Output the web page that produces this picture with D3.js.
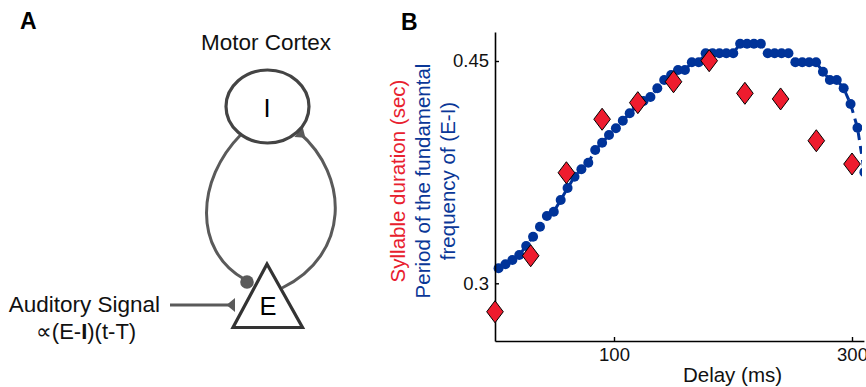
<!DOCTYPE html>
<html>
<head>
<meta charset="utf-8">
<script src="https://cdn.jsdelivr.net/npm/d3@7"></script>
<style>
  html, body { margin: 0; padding: 0; background: #fff; }
  svg { display: block; font-family: "Liberation Sans", Arial, Helvetica, sans-serif; }
</style>
</head>
<body>
<script>
// ---------------- DATA ----------------
// Model: period of the fundamental frequency of (E-I) vs delay (ms)
const modelDelays = [3, 8.8, 14.6, 20.4, 26.2, 32, 37.8, 43.6, 49.4, 55.2,
  61, 66.8, 72.6, 78.4, 84.2, 90, 95.8, 101.6, 107.4, 113.2,
  119, 124.8, 130.6, 136.4, 142.2, 148, 153.8, 159.6, 165.4, 171.2,
  177, 182.8, 188.6, 194.4, 200.2, 206, 211.8, 217.6, 223.4, 229.2,
  235, 240.8, 246.6, 252.4, 258.2, 264, 269.8, 275.6, 281.4, 287.2,
  293, 298.8, 304.6, 310.4];
const modelPeriods = [0.3101, 0.3128, 0.3157, 0.3191, 0.3252, 0.3314, 0.3382, 0.3454, 0.3483, 0.3562,
  0.3643, 0.3719, 0.3769, 0.3814, 0.3899, 0.3949, 0.4001, 0.4046, 0.4097, 0.4147,
  0.4196, 0.4230, 0.4257, 0.4316, 0.4372, 0.4406, 0.4439, 0.4439, 0.4491, 0.4491,
  0.4552, 0.4552, 0.4552, 0.4552, 0.4552, 0.4617, 0.4617, 0.4617, 0.4617, 0.4552,
  0.4552, 0.4552, 0.4552, 0.4491, 0.4491, 0.4491, 0.4491, 0.4428, 0.4372, 0.4372,
  0.4316, 0.4210, 0.4050, 0.3750];
// Experiment: syllable duration (sec) vs delay (ms)
const syllDelays = [0, 30, 60, 90, 120, 150, 180, 210, 240, 270, 300];
const syllDurations = [0.2808, 0.3186, 0.3746, 0.4107, 0.4219, 0.4360, 0.4502, 0.4282, 0.4244, 0.3962, 0.3805];
// Tick labels
const xTicks = [100, 300];
const yTicks = [0.3, 0.45];

// ---------------- SETUP ----------------
const W = 866, H = 387;
const FONT = '"Liberation Sans", Arial, Helvetica, sans-serif';
const svg = d3.select("body").append("svg").attr("width", W).attr("height", H);

// ================= PANEL A =================
const gA = svg.append("g");
const lineCol = "#5a5a5a";
gA.append("text").attr("x", 20).attr("y", 28.5).attr("font-size", 23).attr("font-weight", "bold")
  .attr("fill", "#000").text("A");
gA.append("text").attr("x", 266).attr("y", 49.5).attr("font-size", 22.5).attr("text-anchor", "middle")
  .attr("fill", "#111").text("Motor Cortex");

// loops
const left = d3.path();
left.moveTo(241, 134.5);
left.bezierCurveTo(196, 180, 193, 250, 244, 279);
gA.append("path").attr("d", left.toString()).attr("fill", "none").attr("stroke", lineCol).attr("stroke-width", 3);

const rEnd = [298.5, 132], rC2 = [350, 176];
const right = d3.path();
right.moveTo(282, 288);
right.bezierCurveTo(350, 255, rC2[0], rC2[1], rEnd[0], rEnd[1]);
gA.append("path").attr("d", right.toString()).attr("fill", "none").attr("stroke", lineCol).attr("stroke-width", 3);

function wedge(end, dir, hw, len) {
  const n = Math.hypot(dir[0], dir[1]);
  const ux = dir[0] / n, uy = dir[1] / n;
  const px = -uy, py = ux;
  const p = d3.path();
  p.moveTo(end[0] + px * hw, end[1] + py * hw);
  p.lineTo(end[0] - px * hw, end[1] - py * hw);
  p.lineTo(end[0] - ux * len, end[1] - uy * len);
  p.closePath();
  return p.toString();
}
gA.append("path").attr("d", wedge(rEnd, [rEnd[0] - rC2[0], rEnd[1] - rC2[1]], 6.5, 9)).attr("fill", lineCol);

// inhibitory end (filled circle)
gA.append("circle").attr("cx", 247).attr("cy", 282).attr("r", 6.8).attr("fill", lineCol);

// ellipse I
gA.append("ellipse").attr("cx", 267.5).attr("cy", 106.5).attr("rx", 41.5).attr("ry", 36.5)
  .attr("fill", "#fff").attr("stroke", "#444").attr("stroke-width", 3.2);
gA.append("text").attr("x", 267).attr("y", 117).attr("font-size", 25.5).attr("text-anchor", "middle")
  .attr("fill", "#000").text("I");

// triangle E
const tri = d3.path();
tri.moveTo(267, 264); tri.lineTo(233, 327.5); tri.lineTo(302.5, 327.5); tri.closePath();
gA.append("path").attr("d", tri.toString()).attr("fill", "#fff").attr("stroke", "#333")
  .attr("stroke-width", 3.2).attr("stroke-linejoin", "miter");
gA.append("text").attr("x", 268).attr("y", 315).attr("font-size", 25.5).attr("text-anchor", "middle")
  .attr("fill", "#000").text("E");

// auditory input
gA.append("line").attr("x1", 170).attr("y1", 305).attr("x2", 232).attr("y2", 305)
  .attr("stroke", lineCol).attr("stroke-width", 3);
gA.append("path").attr("d", wedge([235, 305], [1, 0], 7, 8.5)).attr("fill", lineCol);
gA.append("text").attr("x", 160).attr("y", 311.5).attr("font-size", 22.5).attr("text-anchor", "end")
  .attr("fill", "#111").text("Auditory Signal");
const prop = gA.append("text").attr("x", 86).attr("y", 339).attr("font-size", 22)
  .attr("text-anchor", "middle").attr("fill", "#111");
prop.append("tspan").text("\u221D(E-");
prop.append("tspan").attr("font-weight", "bold").text("I");
prop.append("tspan").text(")(t-T)");

// ================= PANEL B =================
svg.append("text").attr("x", 401).attr("y", 30).attr("font-size", 23).attr("font-weight", "bold")
  .attr("fill", "#000").text("B");

const x = d3.scaleLinear().domain([0, 310]).range([495, 863.9]);
const y = d3.scaleLinear().domain([0.26107, 0.46957]).range([341, 32]);

const clip = svg.append("defs").append("clipPath").attr("id", "plotclip");
clip.append("rect").attr("x", 470).attr("y", 0).attr("width", 862 - 470).attr("height", H);

const gData = svg.append("g").attr("clip-path", "url(#plotclip)");
const modelData = modelDelays.map((d, i) => ({ d, v: modelPeriods[i] }));
const syllData = syllDelays.map((d, i) => ({ d, v: syllDurations[i] }));

const blue = "#003399";
gData.append("path").datum(modelData)
  .attr("d", d3.line().x(p => x(p.d)).y(p => y(p.v)))
  .attr("fill", "none").attr("stroke", blue).attr("stroke-width", 3)
  .attr("stroke-dasharray", "8,6");
gData.selectAll("circle.m").data(modelData).join("circle").attr("class", "m")
  .attr("cx", p => x(p.d)).attr("cy", p => y(p.v)).attr("r", 5).attr("fill", blue);

const diamond = (cx, cy) => {
  const hw = 8.3, hh = 11;
  const p = d3.path();
  p.moveTo(cx, cy - hh); p.lineTo(cx + hw, cy); p.lineTo(cx, cy + hh); p.lineTo(cx - hw, cy); p.closePath();
  return p.toString();
};

// axes
const axisCol = "#000";
const yAxis = svg.append("g").attr("transform", `translate(${x(0)},0)`)
  .call(d3.axisLeft(y).tickValues(yTicks).tickFormat(d => String(d)).tickSize(-4).tickSizeOuter(0).tickPadding(6));
const xAxis = svg.append("g").attr("transform", `translate(0,${y.range()[0]})`)
  .call(d3.axisBottom(x).tickValues(xTicks).tickSize(-4).tickSizeOuter(0).tickPadding(7));
[yAxis, xAxis].forEach(g => {
  g.select(".domain").attr("stroke", axisCol).attr("stroke-width", 1.6);
  g.selectAll(".tick line").attr("stroke", axisCol).attr("stroke-width", 1.4);
  g.selectAll(".tick text").attr("font-size", 18.5).attr("font-family", FONT).attr("fill", "#111");
});

// diamonds on top
svg.append("g").attr("clip-path", "url(#plotclip)").selectAll("path.s").data(syllData).join("path").attr("class", "s")
  .attr("d", p => diamond(x(p.d), y(p.v)))
  .attr("fill", "#ee1c2e").attr("stroke", "#000").attr("stroke-width", 1);

// axis titles
svg.append("text").attr("x", 732.5).attr("y", 381.5).attr("font-size", 20.5).attr("text-anchor", "middle")
  .attr("fill", "#111").text("Delay (ms)");

const yTitle = [
  { t: "Syllable duration (sec)", c: "#e8202e", bx: 405 },
  { t: "Period of the fundamental", c: "#0a3797", bx: 430 },
  { t: "frequency of (E-I)", c: "#0a3797", bx: 455 }
];
yTitle.forEach(l => {
  svg.append("text").attr("transform", `translate(${l.bx},181) rotate(-90)`)
    .attr("font-size", 20.5).attr("text-anchor", "middle").attr("fill", l.c).text(l.t);
});
</script>
</body>
</html>
